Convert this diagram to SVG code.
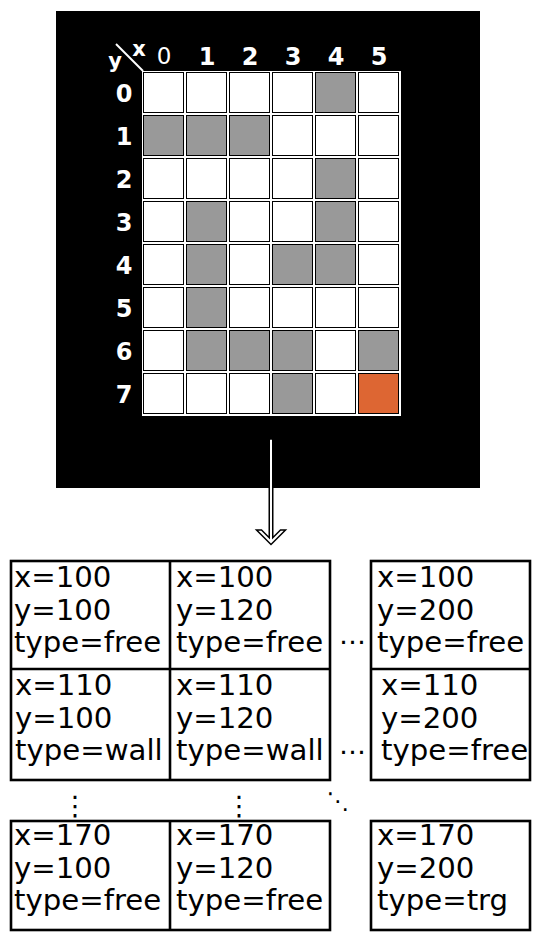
<svg xmlns="http://www.w3.org/2000/svg" width="540" height="940" viewBox="0 0 540 940">
<style>
.lbl{font-family:"DejaVu Sans",sans-serif;font-weight:bold;font-size:24px;fill:#fff;text-anchor:middle}
.c{stroke:#000;stroke-width:1}
.w{fill:#fff}
.g{fill:#999}
.o{fill:#dd6633}
.box{fill:#fff;stroke:#000;stroke-width:2.6}
.t{font-family:"DejaVu Sans",sans-serif;font-size:29.2px;fill:#000}
.d{font-family:"DejaVu Sans",sans-serif;font-size:27px;fill:#000;text-anchor:middle}
</style>
<rect width="540" height="940" fill="#fff"/>
<g id="map">
<rect x="56" y="11" width="424" height="477" fill="#000"/>
<rect x="142" y="71" width="259" height="345" fill="#fff"/>
<line x1="116" y1="44" x2="143" y2="71" stroke="#fff" stroke-width="2"/>
<text x="139" y="56" class="lbl" style="font-size:21px">x</text>
<text x="115" y="68" class="lbl" style="font-size:21px">y</text>
<text x="164" y="64" class="lbl" style="font-weight:normal;font-size:23px">0</text>
<text x="207" y="65" class="lbl">1</text>
<text x="250" y="65" class="lbl">2</text>
<text x="293" y="65" class="lbl">3</text>
<text x="336" y="65" class="lbl">4</text>
<text x="379" y="65" class="lbl">5</text>
<text x="124" y="102" class="lbl">0</text>
<text x="124" y="145" class="lbl">1</text>
<text x="124" y="188" class="lbl">2</text>
<text x="124" y="231" class="lbl">3</text>
<text x="124" y="274" class="lbl">4</text>
<text x="124" y="317" class="lbl">5</text>
<text x="124" y="360" class="lbl">6</text>
<text x="124" y="403" class="lbl">7</text>
<g class="c">
<rect x="143.5" y="72.5" width="40" height="40" class="w"/><rect x="186.5" y="72.5" width="40" height="40" class="w"/><rect x="229.5" y="72.5" width="40" height="40" class="w"/><rect x="272.5" y="72.5" width="40" height="40" class="w"/><rect x="315.5" y="72.5" width="40" height="40" class="g"/><rect x="358.5" y="72.5" width="40" height="40" class="w"/>
<rect x="143.5" y="115.5" width="40" height="40" class="g"/><rect x="186.5" y="115.5" width="40" height="40" class="g"/><rect x="229.5" y="115.5" width="40" height="40" class="g"/><rect x="272.5" y="115.5" width="40" height="40" class="w"/><rect x="315.5" y="115.5" width="40" height="40" class="w"/><rect x="358.5" y="115.5" width="40" height="40" class="w"/>
<rect x="143.5" y="158.5" width="40" height="40" class="w"/><rect x="186.5" y="158.5" width="40" height="40" class="w"/><rect x="229.5" y="158.5" width="40" height="40" class="w"/><rect x="272.5" y="158.5" width="40" height="40" class="w"/><rect x="315.5" y="158.5" width="40" height="40" class="g"/><rect x="358.5" y="158.5" width="40" height="40" class="w"/>
<rect x="143.5" y="201.5" width="40" height="40" class="w"/><rect x="186.5" y="201.5" width="40" height="40" class="g"/><rect x="229.5" y="201.5" width="40" height="40" class="w"/><rect x="272.5" y="201.5" width="40" height="40" class="w"/><rect x="315.5" y="201.5" width="40" height="40" class="g"/><rect x="358.5" y="201.5" width="40" height="40" class="w"/>
<rect x="143.5" y="244.5" width="40" height="40" class="w"/><rect x="186.5" y="244.5" width="40" height="40" class="g"/><rect x="229.5" y="244.5" width="40" height="40" class="w"/><rect x="272.5" y="244.5" width="40" height="40" class="g"/><rect x="315.5" y="244.5" width="40" height="40" class="g"/><rect x="358.5" y="244.5" width="40" height="40" class="w"/>
<rect x="143.5" y="287.5" width="40" height="40" class="w"/><rect x="186.5" y="287.5" width="40" height="40" class="g"/><rect x="229.5" y="287.5" width="40" height="40" class="w"/><rect x="272.5" y="287.5" width="40" height="40" class="w"/><rect x="315.5" y="287.5" width="40" height="40" class="w"/><rect x="358.5" y="287.5" width="40" height="40" class="w"/>
<rect x="143.5" y="330.5" width="40" height="40" class="w"/><rect x="186.5" y="330.5" width="40" height="40" class="g"/><rect x="229.5" y="330.5" width="40" height="40" class="g"/><rect x="272.5" y="330.5" width="40" height="40" class="g"/><rect x="315.5" y="330.5" width="40" height="40" class="w"/><rect x="358.5" y="330.5" width="40" height="40" class="g"/>
<rect x="143.5" y="373.5" width="40" height="40" class="w"/><rect x="186.5" y="373.5" width="40" height="40" class="w"/><rect x="229.5" y="373.5" width="40" height="40" class="w"/><rect x="272.5" y="373.5" width="40" height="40" class="g"/><rect x="315.5" y="373.5" width="40" height="40" class="w"/><rect x="358.5" y="373.5" width="40" height="40" class="o"/>
</g>
</g>
<g id="connectors">
<path d="M269.25,439 L269.25,537.75 L261.5,530 L256.5,530 L271,544.5 L285.5,530 L280.5,530 L272.75,537.75 L272.75,439 Z" fill="#fff" stroke="#000" stroke-width="1.5" stroke-linejoin="miter"/>
</g>
<g id="table-top-left">
<rect x="11" y="561" width="319" height="219" class="box"/>
<line x1="170" y1="561" x2="170" y2="780" stroke="#000" stroke-width="2.6"/>
<line x1="11" y1="669" x2="330" y2="669" stroke="#000" stroke-width="2.6"/>
</g>
<g id="cell-100-100"><text class="t" x="14" y="587">x=100</text><text class="t" x="14" y="619.5">y=100</text><text class="t" x="14" y="652">type=free</text></g>
<g id="cell-100-120"><text class="t" x="176" y="587">x=100</text><text class="t" x="176" y="619.5">y=120</text><text class="t" x="176" y="652">type=free</text></g>
<g id="cell-110-100"><text class="t" x="15" y="695">x=110</text><text class="t" x="15" y="727.5">y=100</text><text class="t" x="15" y="760">type=wall</text></g>
<g id="cell-110-120"><text class="t" x="176" y="695">x=110</text><text class="t" x="176" y="727.5">y=120</text><text class="t" x="176" y="760">type=wall</text></g>
<g id="table-top-right">
<rect x="371" y="561" width="159" height="219" class="box"/>
<line x1="371" y1="669" x2="530" y2="669" stroke="#000" stroke-width="2.6"/>
</g>
<g id="cell-100-200"><text class="t" x="377" y="587">x=100</text><text class="t" x="377" y="619.5">y=200</text><text class="t" x="377" y="652">type=free</text></g>
<g id="cell-110-200"><text class="t" x="381" y="695">x=110</text><text class="t" x="381" y="727.5">y=200</text><text class="t" x="381" y="760">type=free</text></g>
<g id="table-bottom-left">
<rect x="11" y="821" width="319" height="109" class="box"/>
<line x1="170" y1="821" x2="170" y2="930" stroke="#000" stroke-width="2.6"/>
</g>
<g id="cell-170-100"><text class="t" x="14" y="845">x=170</text><text class="t" x="14" y="877.5">y=100</text><text class="t" x="14" y="910">type=free</text></g>
<g id="cell-170-120"><text class="t" x="176" y="845">x=170</text><text class="t" x="176" y="877.5">y=120</text><text class="t" x="176" y="910">type=free</text></g>
<g id="table-bottom-right">
<rect x="371" y="821" width="159" height="109" class="box"/>
</g>
<g id="cell-170-200"><text class="t" x="377" y="845">x=170</text><text class="t" x="377" y="877.5">y=200</text><text class="t" x="377" y="910">type=trg</text></g>
<g id="ellipses">
<text class="d" x="352.5" y="644">…</text>
<text class="d" x="352.5" y="754">…</text>
<text class="d" x="75" y="815">⋮</text>
<text class="d" x="239" y="815">⋮</text>
<text class="d" x="338" y="809" style="font-size:23px">⋱</text>
</g>
</svg>
